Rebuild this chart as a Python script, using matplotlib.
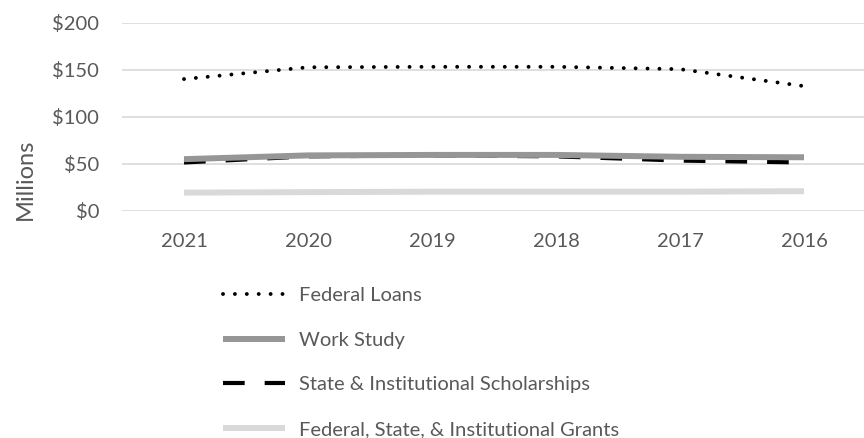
import matplotlib
matplotlib.use("Agg")
import matplotlib.pyplot as plt

years = ["2021", "2020", "2019", "2018", "2017", "2016"]
federal_loans = [140, 152.5, 153, 153, 150.5, 132.5]
work_study = [55, 59, 59.5, 59.5, 57.5, 57]
scholarships = [51.5, 58, 59, 58, 53.5, 51.5]
grants = [19.5, 20, 20.5, 20.5, 20.5, 21]

yticks = [0, 50, 100, 150, 200]
ytick_labels = ["$0", "$50", "$100", "$150", "$200"]

TXT = "#595959"
FS = 14.5
plt.rcParams['font.family'] = ['Lato', 'DejaVu Sans']

fig = plt.figure(figsize=(8.64, 4.38), dpi=100)
ax = fig.add_axes([122/864, 1 - 211/438, (866-122)/864, (211-22.5)/438])

x = list(range(len(years)))

l_fl, = ax.plot(x, federal_loans, color="black", lw=2.8,
                linestyle=(0, (0.01, 3.05)), dash_capstyle="round", zorder=5,
                label="Federal Loans")
l_ws, = ax.plot(x, work_study, color="#969696", lw=4.3, solid_capstyle="butt",
                zorder=4, label="Work Study")
l_sc, = ax.plot(x, scholarships, color="black", lw=3.0,
                linestyle=(0, (5.2, 4.8)), dash_capstyle="butt", zorder=3,
                label="State & Institutional Scholarships")
l_gr, = ax.plot(x, grants, color="#d9d9d9", lw=4.3, solid_capstyle="butt",
                zorder=3, label="Federal, State, & Institutional Grants")

ax.set_xlim(-0.5, len(years) - 0.5)
ax.set_ylim(0, 200)
ax.set_yticks(yticks)
ax.set_yticklabels(ytick_labels)
ax.set_xticks(x)
ax.set_xticklabels(years)
ax.grid(axis="y", color="#d9d9d9", lw=1.2)
ax.set_axisbelow(True)
for s in ax.spines.values():
    s.set_visible(False)
ax.tick_params(axis="both", length=0, colors=TXT, labelsize=FS)
ax.tick_params(axis="y", pad=16.5)
ax.tick_params(axis="x", pad=15.5)

fig.text(25/864, 1 - 179/438, "Millions", rotation=90, ha="center", va="center",
         color=TXT, fontsize=17)

leg = fig.legend(handles=[l_fl, l_ws, l_sc, l_gr], loc="upper left",
                 bbox_to_anchor=(223/864, 1 - 287/438), frameon=False,
                 borderpad=0, borderaxespad=0,
                 handlelength=3.1, handletextpad=0.65, labelspacing=1.37,
                 fontsize=FS, labelcolor=TXT)

fig.savefig("out.png", dpi=100)
